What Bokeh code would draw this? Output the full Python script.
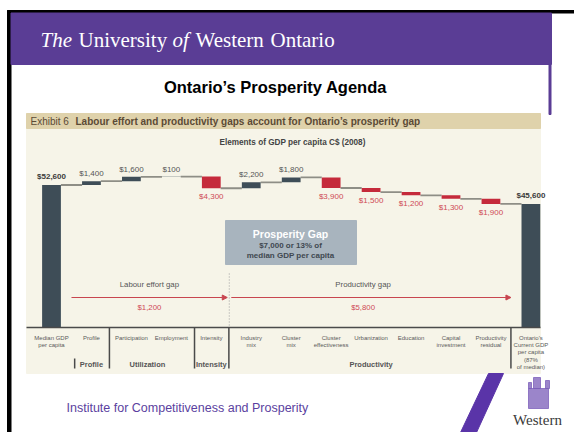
from bokeh.plotting import figure
from bokeh.models import Range1d, Arrow, NormalHead
from bokeh.core.properties import value
from bokeh.embed import file_html
from bokeh.resources import INLINE

# ---------------- data ----------------
categories = ["Median GDP\nper capita", "Profile", "Participation", "Employment",
              "Intensity", "Industry\nmix", "Cluster\nmix", "Cluster\neffectiveness",
              "Urbanization", "Education", "Capital\ninvestment", "Productivity\nresidual",
              "Ontario's\nCurrent GDP\nper capita\n({pct}%\nof median)"]
median_gdp = 52600
changes = [1400, 1600, 100, -4300, 2200, 1800, -3900, -1500, -1200, -1300, -1900]
ontario_gdp = 45600
groups = ["Profile", "Utilization", "Intensity", "Productivity"]
group_members = [[1], [2, 3], [4], [5, 6, 7, 8, 9, 10, 11]]
labour_idx = [0, 1, 2, 3]          # indices in changes
productivity_idx = [4, 5, 6, 7, 8, 9, 10]

DARK = "#3E4D57"
RED = "#C52A3B"
RED_TXT = "#CF4A55"
GREY_TXT = "#555555"
PURPLE = "#5A3D95"

def fmt(v):
    return "${:,}".format(abs(int(v)))

pct = round(ontario_gdp / median_gdp * 100)
gap = median_gdp - ontario_gdp
gap_pct = round(gap / median_gdp * 100)

# ---------------- figure ----------------
W_PX, H_PX = 574, 432
p = figure(width=W_PX, height=H_PX, x_range=Range1d(0, W_PX), y_range=Range1d(H_PX, 0),
           output_backend="svg", toolbar_location=None, min_border=0)
p.axis.visible = False
p.grid.visible = False
p.outline_line_color = None
p.background_fill_color = "white"
p.border_fill_color = "white"

p.extra_x_ranges = {"idx": Range1d((0 - 51) / 39.95, (W_PX - 51) / 39.95)}
p.extra_y_ranges = {"val": Range1d(-(H_PX - 327) / 0.0027091, 327 / 0.0027091)}

# ---------------- slide decoration ----------------
p.quad(left=7, right=574, top=10, bottom=12.5, color="black")
p.quad(left=7, right=10.5, top=10, bottom=432, color="black")
p.quad(left=10.5, right=551, top=12.5, bottom=64, color=PURPLE)
p.quad(left=548.5, right=550.5, top=64, bottom=114, color=PURPLE)

serif = value("Liberation Serif")
sans = value("Liberation Sans")
for x, t, st in [(40, "The", "italic"), (78, "University", "normal"), (172, "of", "italic"),
                 (195, "Western", "normal"), (270, "Ontario", "normal")]:
    p.text(x=[x], y=[39], text=[t], text_font=serif, text_font_size="21px",
           text_font_style=st, text_color="white", text_baseline="middle", text_align="left")

p.text(x=[275], y=[86], text=["Ontario\u2019s Prosperity Agenda"], text_font=sans,
       text_font_size="16.5px", text_font_style="bold", text_color="black",
       text_baseline="middle", text_align="center")

# chart panel
p.quad(left=26, right=540, top=113, bottom=373, color="#F6F4E8")
p.quad(left=26, right=540, top=113, bottom=128, color="#DFD2AB")
p.text(x=[30], y=[121], text=["Exhibit 6"], text_font=sans, text_font_size="10px",
       text_color="#5B4A35", text_baseline="middle", text_align="left")
p.text(x=[75], y=[121], text=["Labour effort and productivity gaps account for Ontario\u2019s prosperity gap"],
       text_font=sans, text_font_size="10px", text_font_style="bold",
       text_color="#5B4A35", text_baseline="middle", text_align="left")
p.text(x=[292], y=[142], text=["Elements of GDP per capita C$ (2008)"], text_font=sans,
       text_font_size="8.2px", text_font_style="bold", text_color="#444444",
       text_baseline="middle", text_align="center")

# ---------------- waterfall ----------------
W = 0.47
xs, bottoms, tops, colors = [0], [0], [median_gdp], [DARK]
levels = [median_gdp]
run = median_gdp
for i, c in enumerate(changes):
    new = run + c
    xs.append(i + 1)
    bottoms.append(min(run, new))
    tops.append(max(run, new))
    colors.append(DARK if c > 0 else RED)
    run = new
    levels.append(run)
xs.append(len(changes) + 1)
bottoms.append(0)
tops.append(ontario_gdp)
colors.append(DARK)

# connectors
p.segment(x0=[x + W / 2 for x in xs[:-1]], x1=[x + 1 - W / 2 for x in xs[:-1]],
          y0=levels, y1=levels, line_color="#8E8E86", line_width=1.8,
          x_range_name="idx", y_range_name="val")
p.vbar(x=xs, width=W, bottom=bottoms, top=tops, fill_color=colors, line_color=None,
       x_range_name="idx", y_range_name="val")

# value labels
p.text(x=[0, xs[-1]], y=[median_gdp, ontario_gdp], text=[fmt(median_gdp), fmt(ontario_gdp)],
       text_font=sans, text_font_size="8px", text_font_style="bold", text_color="#3A3A3A",
       text_align="center", text_baseline="bottom", y_offset=-4,
       x_range_name="idx", y_range_name="val")
up = [(i + 1, tops[i + 1], fmt(c)) for i, c in enumerate(changes) if c > 0]
dn = [(i + 1, bottoms[i + 1], fmt(c)) for i, c in enumerate(changes) if c < 0]
p.text(x=[u[0] for u in up], y=[u[1] for u in up], text=[u[2] for u in up],
       text_font=sans, text_font_size="8px", text_color=GREY_TXT,
       text_align="center", text_baseline="bottom", y_offset=-3,
       x_range_name="idx", y_range_name="val")
p.text(x=[d[0] for d in dn], y=[d[1] for d in dn], text=[d[2] for d in dn],
       text_font=sans, text_font_size="8px", text_color=RED_TXT,
       text_align="center", text_baseline="top", y_offset=4,
       x_range_name="idx", y_range_name="val")

# axis line
p.segment(x0=[26], x1=[540], y0=[327], y1=[327], line_color="#4A4A4A", line_width=1.6)

# prosperity gap box
p.quad(left=225, right=356, top=220, bottom=264, color="#A8B4BE")
p.text(x=[290], y=[233], text=["Prosperity Gap"], text_font=sans, text_font_size="10.5px",
       text_font_style="bold", text_color="white", text_align="center", text_baseline="middle")
p.text(x=[290, 290], y=[245, 255],
       text=["{} or {}% of".format(fmt(gap), gap_pct), "median GDP per capita"],
       text_font=sans, text_font_size="8px", text_font_style="bold", text_color="#3F4850",
       text_align="center", text_baseline="middle")

# dotted divider
p.segment(x0=[4.45], x1=[4.45], y0=[273], y1=[327], line_color="#A0A0A0", line_width=1,
          line_dash="1 2", x_range_name="idx")

# gap arrows
labour_gap = -sum(changes[i] for i in labour_idx)
prod_gap = -sum(changes[i] for i in productivity_idx)
for xs0, xe, xt, lab, val in [(0.5, 4.4, 2.45, "Labour effort gap", labour_gap),
                              (4.5, 11.5, 7.8, "Productivity gap", prod_gap)]:
    p.add_layout(Arrow(x_start=xs0, x_end=xe, y_start=297, y_end=297, x_range_name="idx",
                       line_color="#C8454F", line_width=1.2,
                       end=NormalHead(size=5, fill_color="#C8454F", line_color="#C8454F")))
    p.text(x=[xt], y=[284], text=[lab], text_font=sans, text_font_size="7.8px",
           text_color=GREY_TXT, text_align="center", text_baseline="middle", x_range_name="idx")
    p.text(x=[xt], y=[307], text=[fmt(val)], text_font=sans, text_font_size="7.8px",
           text_color=RED_TXT, text_align="center", text_baseline="middle", x_range_name="idx")

# category labels
lx, ly, lt = [], [], []
for i, c in enumerate(categories):
    for j, line in enumerate(c.format(pct=pct).split("\n")):
        lx.append(i)
        ly.append(337 + 7.4 * j)
        lt.append(line)
p.text(x=lx, y=ly, text=lt, text_font=sans, text_font_size="6px", text_color="#5A5A5A",
       text_align="center", text_baseline="middle", x_range_name="idx")

# group separators and labels
sep_x = [0.58, 1.45, 3.58, 4.44, 11.5]
sep_top = [358, 327, 327, 327, 327]
p.segment(x0=sep_x, x1=sep_x, y0=sep_top, y1=[368] * 5, line_color="#4A4A4A",
          line_width=1.5, x_range_name="idx")
gx = [sum(m) / len(m) for m in group_members]
gx[1] -= 0.1
p.text(x=gx, y=[364] * 4, text=groups, text_font=sans, text_font_size="7.5px",
       text_font_style="bold", text_color="#555555", text_align="center",
       text_baseline="middle", x_range_name="idx")

# ---------------- footer ----------------
p.text(x=[66], y=[407], text=["Institute for Competitiveness and Prosperity"], text_font=sans,
       text_font_size="12.5px", text_color="#5B3FA0", text_align="left", text_baseline="middle")
p.patch(x=[488, 503, 476, 460], y=[373, 373, 432, 432], color="#5A34A8")
p.quad(left=[528, 533, 528, 545], right=[548, 540, 531, 549], top=[388, 377, 382, 380],
       bottom=[408, 388, 388, 388], color="#7A5CB8", alpha=0.75)
p.text(x=[537], y=[419], text=["Western"], text_font=serif, text_font_size="15px",
       text_color="#3A3A3A", text_align="center", text_baseline="middle")

open("out.html", "w").write(file_html(p, INLINE))
